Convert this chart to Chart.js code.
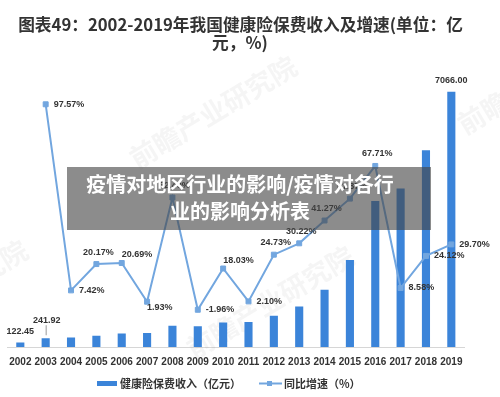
<!DOCTYPE html>
<html><head><meta charset="utf-8">
<script src="https://cdn.jsdelivr.net/npm/chart.js@4.4.1/dist/chart.umd.min.js"></script>
<style>html,body{margin:0;padding:0;background:#fff;}canvas{display:block;}</style>
</head><body>
<canvas id="c" width="500" height="397"></canvas>
<script>
const years = ['2002','2003','2004','2005','2006','2007','2008','2009','2010','2011','2012','2013','2014','2015','2016','2017','2018','2019'];
const premium = [122.45,241.92,259.87,312.29,376.90,384.17,585.46,573.98,677.47,691.72,862.76,1123.50,1587.18,2410.47,4042.50,4389.46,5448.13,7066.00];
const growth = [null,97.57,7.42,20.17,20.69,1.93,52.40,-1.96,18.03,2.10,24.73,30.22,41.27,51.87,67.71,8.58,24.12,29.70];
const premiumLabelIdx = [0,1,17];
const growthLabelPlace = [null,'r','r','a','ar','br','a','r','ar','r','a','a','a','a','a','r','r','r'];
const titleLines = ['图表49：2002-2019年我国健康险保费收入及增速(单位：亿','元，%)'];
const overlayLines = ['疫情对地区行业的影响/疫情对各行','业的影响分析表'];
const watermark = '前瞻产业研究院';
const seriesNames = ['健康险保费收入（亿元）','同比增速（%）'];

const BAR_COLOR = '#3b84d9';
const LINE_COLOR = '#72a6df';
const CJK = '"Noto Sans CJK SC","Noto Sans",sans-serif';
const NUMF = '"Liberation Sans",Arial,sans-serif';

const deco = {
  id: 'deco',
  beforeDatasetsDraw(chart) {
    const ctx = chart.ctx;
    ctx.save();
    ctx.fillStyle = 'rgba(120,120,120,0.07)';
    ctx.font = 'bold 27px ' + CJK;
    ctx.textAlign = 'center'; ctx.textBaseline = 'middle';
    [[213,112],[270,302],[-56,296],[541,78]].forEach(([x,y]) => {
      ctx.save(); ctx.translate(x,y); ctx.rotate(-31*Math.PI/180);
      ctx.fillText(watermark,0,0); ctx.restore();
    });
    ctx.restore();
  },
  afterDatasetsDraw(chart) {
    const ctx = chart.ctx;
    const lineMeta = chart.getDatasetMeta(0);
    const barMeta = chart.getDatasetMeta(1);
    ctx.save();
    ctx.fillStyle = '#333';
    ctx.font = 'bold 9px ' + NUMF;
    ctx.textBaseline = 'middle';
    growth.forEach((v,i) => {
      if (v === null) return;
      const p = lineMeta.data[i];
      const t = v.toFixed(2) + '%';
      const pl = growthLabelPlace[i];
      if (pl === 'r') { ctx.textAlign='left'; ctx.fillText(t, p.x+8, p.y); }
      else if (pl === 'a') { ctx.textAlign='center'; ctx.fillText(t, p.x+2, p.y-12); }
      else if (pl === 'ar') { ctx.textAlign='left'; ctx.fillText(t, p.x, p.y-8); }
      else if (pl === 'br') { ctx.textAlign='left'; ctx.fillText(t, p.x, p.y+6); }
    });
    ctx.textAlign = 'center';
    premiumLabelIdx.forEach((i) => {
      const b = barMeta.data[i];
      const t = premium[i].toFixed(2);
      if (i === 1) {
        ctx.fillText(t, b.x+1, b.y-18);
        ctx.strokeStyle = '#999'; ctx.lineWidth = 1;
        ctx.beginPath(); ctx.moveTo(b.x+0.5, b.y-13); ctx.lineTo(b.x+0.5, b.y-3); ctx.stroke();
      } else {
        ctx.fillText(t, b.x, b.y-11);
      }
    });
    ctx.restore();
  },
  afterDraw(chart) {
    const ctx = chart.ctx;
    ctx.save();
    ctx.fillStyle = '#333';
    ctx.font = 'bold 16.7px ' + CJK;
    ctx.textAlign = 'center'; ctx.textBaseline = 'middle';
    ctx.fillText(titleLines[0], 240.5, 25);
    ctx.fillText(titleLines[1], 240, 43);
    ctx.fillStyle = BAR_COLOR;
    ctx.fillRect(97, 381, 20, 5);
    ctx.strokeStyle = LINE_COLOR; ctx.lineWidth = 2;
    ctx.beginPath(); ctx.moveTo(259, 383.5); ctx.lineTo(282, 383.5); ctx.stroke();
    ctx.fillStyle = LINE_COLOR; ctx.fillRect(267, 381, 5, 5);
    ctx.fillStyle = '#333';
    ctx.font = 'bold 11px ' + CJK;
    ctx.textAlign = 'left';
    ctx.fillText(seriesNames[0], 120, 384);
    ctx.fillText(seriesNames[1], 284, 384);
    ctx.fillStyle = 'rgba(70,70,70,0.62)';
    ctx.fillRect(67, 167, 364, 63);
    ctx.fillStyle = '#fff';
    ctx.font = 'bold 20px ' + CJK;
    ctx.textAlign = 'center';
    ctx.fillText(overlayLines[0], 240, 184);
    ctx.fillText(overlayLines[1], 240, 211);
    ctx.restore();
  }
};

new Chart(document.getElementById('c').getContext('2d'), {
  data: {
    labels: years,
    datasets: [
      {type:'line', label: seriesNames[1], data: growth, yAxisID:'y1', borderColor: LINE_COLOR, backgroundColor: LINE_COLOR,
       borderWidth: 2, pointStyle:'rect', pointRadius: 3.5, pointBorderWidth: 1, tension: 0, order: 0},
      {type:'bar', label: seriesNames[0], data: premium, yAxisID:'y', backgroundColor: BAR_COLOR,
       barPercentage: 0.32, categoryPercentage: 1, order: 1}
    ]
  },
  options: {
    responsive: false, animation: false, devicePixelRatio: 1,
    layout: {padding: {top: 58, left: 7, right: 36, bottom: 30}},
    plugins: {legend: {display: false}, title: {display: false}, tooltip: {enabled: false}},
    scales: {
      x: {grid: {display: false, drawTicks: false}, border: {display: true, color: '#d6d6d6', width: 1},
          ticks: {color: '#333', font: {family: NUMF, weight: 'bold', size: 10}, padding: 9, maxRotation: 0, autoSkip: false},
          afterFit: (s) => { s.height = 20; }},
      y: {display: false, min: 0, max: 8000},
      y1: {display: false, min: -20, max: 120}
    }
  },
  plugins: [deco]
});
</script>
</body></html>
